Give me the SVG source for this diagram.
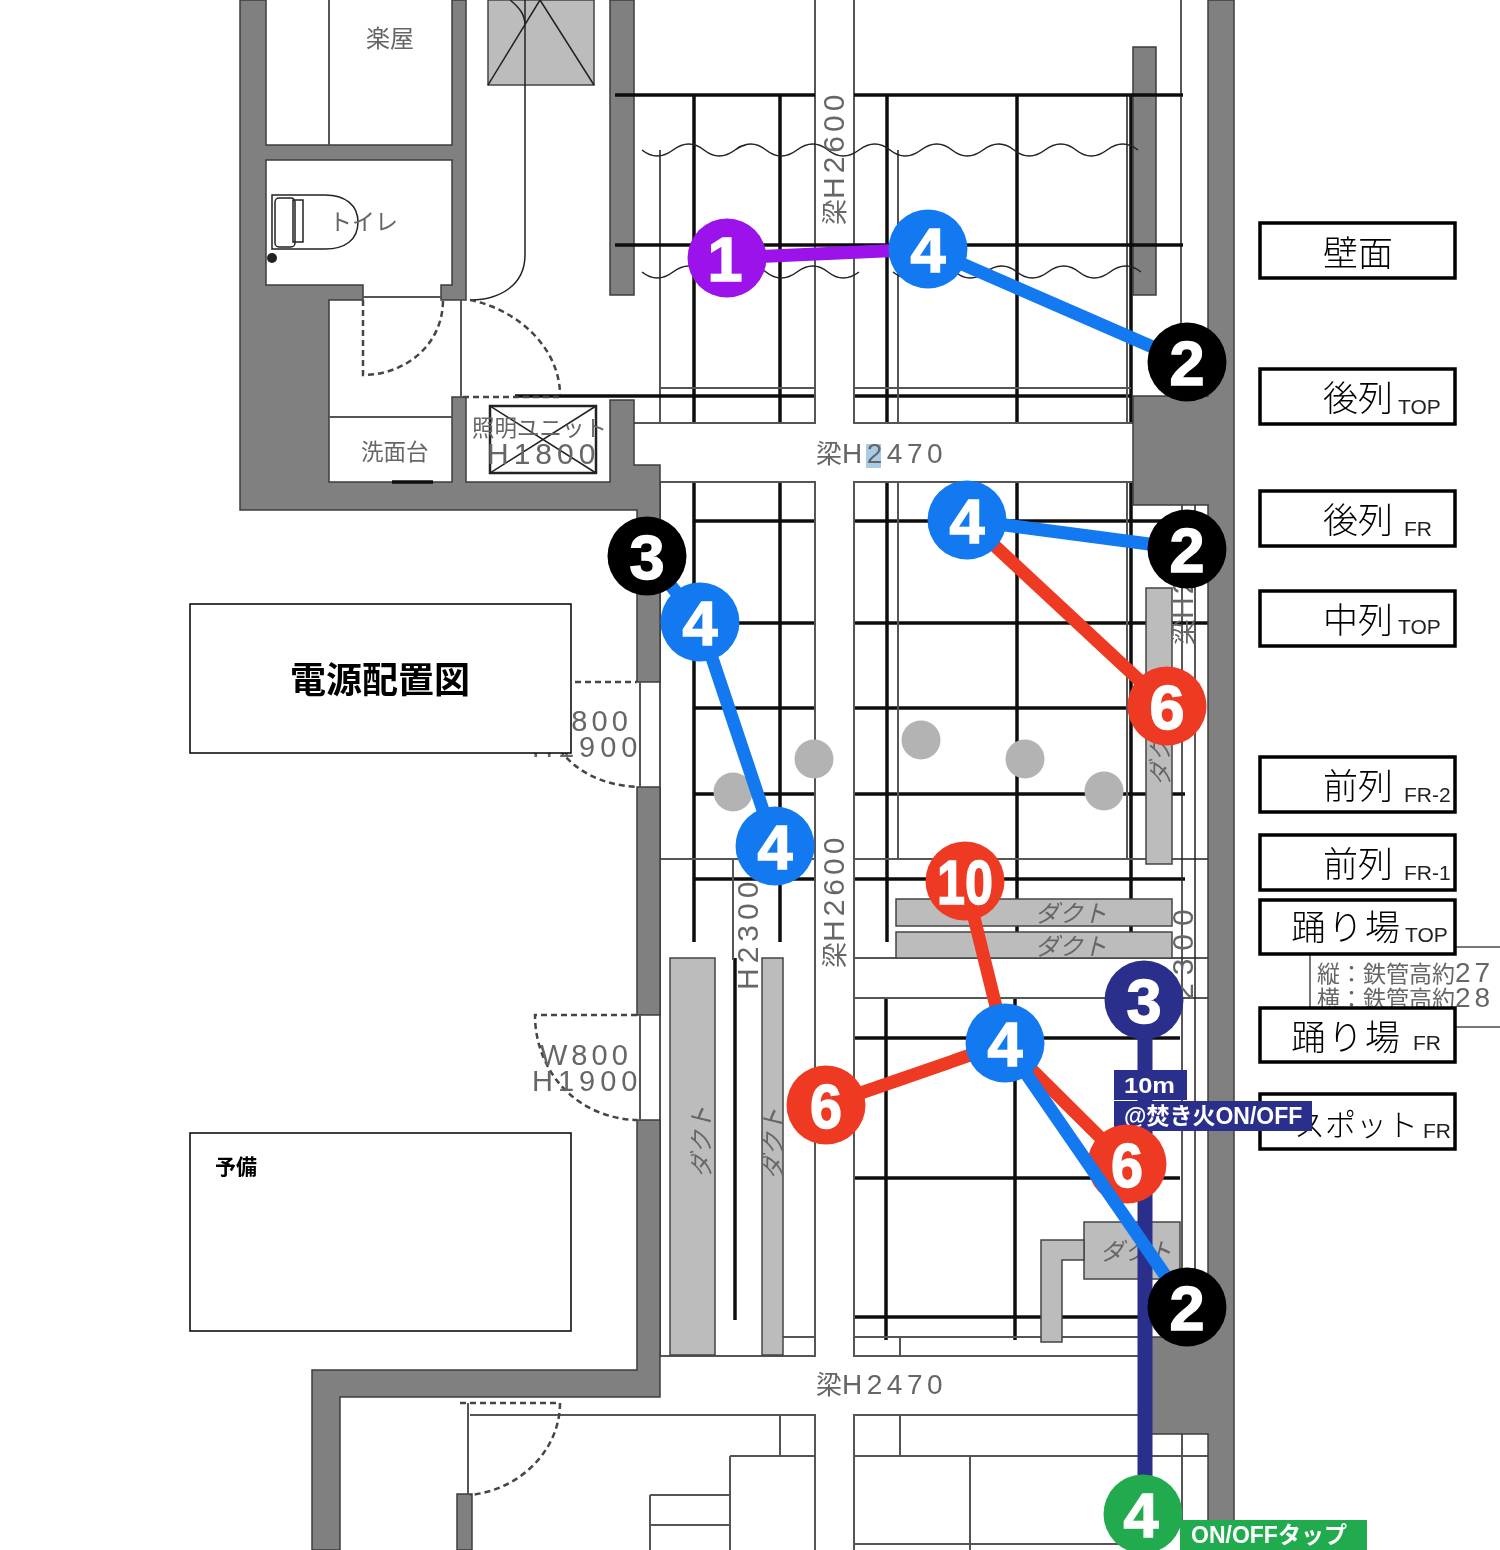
<svg xmlns="http://www.w3.org/2000/svg" width="1500" height="1550" viewBox="0 0 1500 1550">
<defs>
<style>
.w{fill:#808080;stroke:#3c3c3c;stroke-width:1.5}
.d{fill:#bcbcbc;stroke:#444;stroke-width:1.5}
.k{stroke:#111;stroke-width:3.5;fill:none}
.g{stroke:#555;stroke-width:2;fill:none}
.t{stroke:#222;stroke-width:1.5;fill:none}
.da{stroke:#444;stroke-width:2.5;fill:none;stroke-dasharray:6 4}
.p{font-family:"Noto Sans CJK JP","Liberation Sans",sans-serif;fill:#666;font-size:24px;letter-spacing:0}
.e{font-family:"Liberation Sans","Noto Sans CJK JP",sans-serif;fill:#666;font-size:30px;letter-spacing:3px}
.b{fill:#fff;stroke:#000;stroke-width:3.5}
.lb{font-family:"Noto Sans CJK JP",sans-serif;font-size:35px;fill:#000;font-weight:300}
.ls{font-family:"Liberation Sans",sans-serif;font-size:21px;fill:#222}
.n{font-family:"Liberation Sans",sans-serif;font-weight:700;font-size:63px;fill:#fff;stroke:#fff;stroke-width:1.5;text-anchor:middle}
.s{font-family:"Liberation Sans","Noto Sans CJK JP",sans-serif;font-weight:700;fill:#fff}
.c{fill:none;stroke-width:13}
</style>
<filter id="soft" x="-2%" y="-2%" width="104%" height="104%"><feGaussianBlur stdDeviation="0.6"/></filter>
</defs>
<rect width="1500" height="1550" fill="#fff"/>
<g id="plan" filter="url(#soft)">
<path class="g" d="M660 150V423M660 482V1356"/>
<g class="k">
<path d="M515 396H1131"/>
<path d="M694 521H1180M694 623H1208M694 708H1131M694 794H1185M694 879H1185"/>
<path d="M854 1038H1180M854 1178H1180M854 1317H1140"/>
<path d="M694 95V423M694 482V942M780 95V423M780 482V942M887 95V423M887 482V942M1017 95V423M1017 482V942M1131 95V423M1131 482V942"/>
<path d="M886 998V1340M1015 998V1340"/>
<path d="M735 958V1320" />
</g>
<path class="g" d="M898 150V423M898 482V859M1127 95V423M1127 482V859M660 388H1131M634 423H1133M660 482H1133M660 859H1208M854 958H1208M854 998H1208M780 1337H1140M660 1356H1140M470 1415H1140M730 1456H1208M650 1495H730M650 1525H730M852 1544H1140M650 1495V1550M730 1456V1550M970 1456V1550M780 1337V1356M780 1415V1456M900 1337V1356M900 1415V1456M1182 1434V1550M733 859V960"/>
<rect x="816" y="0" width="37" height="1550" fill="#fff"/>
<path class="g" d="M815 0V1550M854 0V1550"/>
<path class="t" d="M1181 0V388M1182 505V1340M1195 505V1340"/>
<rect x="660" y="424" width="473" height="57" fill="#fff"/>
<rect x="660" y="1357" width="480" height="57" fill="#fff"/>
<rect x="866" y="444" width="15" height="24" fill="#a8cbe6"/>

<path class="w" d="M240 0H266V145H452V0H466V300H441V285H452V160H266V285H363V300H329V482H452V397H466V482H610V400H634V465H660V682H637V510H240Z"/>
<rect class="w" x="610" y="0" width="24" height="295"/>
<rect class="w" x="1133" y="47" width="23" height="248"/>
<path class="w" d="M1208 0H1234V1550H1208V1434H1147V1337H1208V505H1133V396H1208Z"/>
<rect class="w" x="637" y="787" width="23" height="228"/>
<path class="w" d="M637 1120H660V1397H340V1550H312V1370H637Z"/>
<rect class="w" x="457" y="1494" width="15" height="56"/>

<path class="k" d="M615 95H815M854 95H1183M615 245H1183"/>
<path class="t" d="M642 150q15 12 31 0t31 0t31 0t31 0t31 0t31 0t31 0t31 0t31 0t31 0t31 0t31 0t31 0t31 0t31 0t31 0"/>
<path class="t" d="M642 272q15 12 31 0t31 0t31 0t31 0t31 0t31 0t31 0M893 272q15 12 31 0t31 0t31 0t31 0t31 0t31 0t31 0t31 0"/>

<path class="g" d="M329 0V145M461 300V397M363 297H441M329 417H452M640 682V787M640 1015V1120M468 1403V1494"/>
<path class="k" d="M392 482H433"/>
<rect class="d" x="488" y="0" width="106" height="85"/>
<path class="t" d="M488 85L540 0L594 85M510 0C520 8 525 15 525 25"/>
<path class="t" d="M525 0V255C525 285 500 300 470 300"/>
<path class="da" d="M363 300V375C405 375 443 345 443 300M470 300C520 310 560 350 560 395M463 397H560M575 682H637M560 750C575 770 600 785 637 787M637 1015H535C535 1070 575 1118 637 1120M460 1403H560C560 1450 520 1490 470 1495"/>
<path class="t" d="M272 195H325C345 195 358 205 358 222C358 240 345 249 325 249H272Z"/>
<rect class="t" x="275" y="198" width="20" height="49" rx="4"/>
<rect class="t" x="293" y="200" width="10" height="42"/>
<circle cx="272" cy="258" r="5" fill="#222"/>
<rect x="490" y="406" width="106" height="67" fill="none" stroke="#222" stroke-width="2.5"/>
<path class="t" d="M490 406L596 473M596 406L490 473"/>

<rect class="d" x="896" y="899" width="276" height="27"/>
<rect class="d" x="896" y="932" width="276" height="26"/>
<rect class="d" x="1146" y="588" width="26" height="276"/>
<rect class="d" x="670" y="958" width="45" height="397"/>
<rect class="d" x="762" y="958" width="21" height="397"/>
<rect class="d" x="1084" y="1222" width="96" height="57"/>
<path class="d" d="M1084 1240H1041V1342H1062V1260H1084Z"/>

<text class="p" x="366" y="47">楽屋</text>
<text class="p" x="329" y="230" style="font-size:23px">トイレ</text>
<text class="p" x="361" y="460" style="font-size:22.5px">洗面台</text>
<text class="p" x="472" y="436" style="font-size:22.5px">照明ユニット</text>
<text class="e" x="487" y="464" style="letter-spacing:5px">H1800</text>
<text class="e" x="816" y="463" style="font-size:28px;letter-spacing:4.5px"><tspan class="p" style="font-size:26px">梁</tspan>H2470</text>
<text class="e" x="816" y="1394" style="font-size:28px;letter-spacing:4.5px"><tspan class="p" style="font-size:26px">梁</tspan>H2470</text>
<text class="e" transform="translate(844 225) rotate(-90)" style="letter-spacing:4px"><tspan class="p" style="font-size:26px">梁</tspan>H2600</text>
<text class="e" transform="translate(844 968) rotate(-90)" style="letter-spacing:4px"><tspan class="p" style="font-size:26px">梁</tspan>H2600</text>
<text class="e" transform="translate(758 990) rotate(-90)" style="letter-spacing:5px">H2300</text>
<text class="e" transform="translate(1193 1000) rotate(-90)" style="letter-spacing:8px">2300</text>
<text class="e" transform="translate(1193 645) rotate(-90)"><tspan class="p" style="font-size:26px">梁</tspan>H2</text>
<text class="p" x="1035" y="922" font-style="italic">ダクト</text>
<text class="p" x="1035" y="955" font-style="italic">ダクト</text>
<text class="p" x="1100" y="1260" font-style="italic">ダクト</text>
<text class="p" font-style="italic" transform="translate(1169 786) rotate(-90)">ダクト</text>
<text class="p" font-style="italic" transform="translate(710 1178) rotate(-90)">ダクト</text>
<text class="p" font-style="italic" transform="translate(782 1180) rotate(-90)">ダクト</text>
<text class="e" x="540" y="1065" style="font-size:29px;letter-spacing:4px">W800</text>
<text class="e" x="532" y="1091" style="font-size:29px;letter-spacing:5px">H1900</text>
<text class="e" x="540" y="731" style="font-size:29px;letter-spacing:4px">W800</text>
<text class="e" x="532" y="757" style="font-size:29px;letter-spacing:5px">H1900</text>
<rect x="1310" y="947" width="200" height="80" fill="#fff" stroke="#777" stroke-width="2"/>
<text class="e" x="1317" y="982" style="font-size:28px;letter-spacing:4px"><tspan class="p" style="font-size:23px">縦：鉄管高約</tspan>27</text>
<text class="e" x="1317" y="1007" style="font-size:28px;letter-spacing:4px"><tspan class="p" style="font-size:23px">横：鉄管高約</tspan>28</text>
</g>

<g id="spot-dots" fill="#b3b3b3">
<circle cx="733" cy="792" r="19.5"/>
<circle cx="814" cy="759" r="19.5"/>
<circle cx="921" cy="740" r="19.5"/>
<circle cx="1025" cy="759" r="19.5"/>
<circle cx="1104" cy="791" r="19.5"/>
</g>

<g id="title-box"><rect x="190" y="604" width="381" height="149" fill="#fff" stroke="#000" stroke-width="1.5"/><text x="290" y="693" font-family="Noto Sans CJK JP,sans-serif" font-weight="700" font-size="36" fill="#000">電源配置図</text></g>
<g id="spare-box"><rect x="190" y="1133" width="381" height="198" fill="#fff" stroke="#000" stroke-width="1.5"/><text x="215" y="1174" font-family="Noto Sans CJK JP,sans-serif" font-weight="700" font-size="21" fill="#000">予備</text></g>

<g id="label-wall"><rect class="b" x="1260" y="223" width="195" height="55"/><text class="lb" x="1323" y="266">壁面</text></g>
<g id="label-rear-top"><rect class="b" x="1260" y="369" width="195" height="55"/><text class="lb" x="1323" y="411">後列</text><text class="ls" x="1398" y="414">TOP</text></g>
<g id="label-rear-fr"><rect class="b" x="1260" y="491" width="195" height="55"/><text class="lb" x="1323" y="533">後列</text><text class="ls" x="1404" y="536">FR</text></g>
<g id="label-mid-top"><rect class="b" x="1260" y="591" width="195" height="55"/><text class="lb" x="1323" y="633">中列</text><text class="ls" x="1398" y="634">TOP</text></g>
<g id="label-front-fr2"><rect class="b" x="1260" y="757" width="195" height="55"/><text class="lb" x="1323" y="799">前列</text><text class="ls" x="1404" y="802">FR-2</text></g>
<g id="label-front-fr1"><rect class="b" x="1260" y="835" width="195" height="55"/><text class="lb" x="1323" y="877">前列</text><text class="ls" x="1404" y="880">FR-1</text></g>
<g id="label-landing-top"><rect class="b" x="1260" y="900" width="195" height="54"/><text class="lb" x="1291" y="940" letter-spacing="2">踊り場</text><text class="ls" x="1405" y="942">TOP</text></g>
<g id="label-landing-fr"><rect class="b" x="1260" y="1008" width="195" height="54"/><text class="lb" x="1291" y="1050" letter-spacing="2">踊り場</text><text class="ls" x="1413" y="1050">FR</text></g>
<g id="label-spot-fr"><rect class="b" x="1260" y="1094" width="195" height="55"/><text class="lb" x="1294" y="1136" style="font-size:31px">スポット</text><text class="ls" x="1423" y="1138">FR</text></g>

<g id="connectors">
<path class="c" stroke="#2b2f8c" style="stroke-width:15" d="M1145 1000V1514"/>
<path class="c" stroke="#9b12ea" d="M727 258L928 249"/>
<path class="c" stroke="#1279f0" d="M928 249L1187 362"/>
<path class="c" stroke="#1279f0" d="M967 520L1187 549"/>
<path class="c" stroke="#ee3a22" d="M967 520L1167 706"/>
<path class="c" stroke="#1279f0" d="M647 556L700 622M700 622L775 846"/>
<path class="c" stroke="#ee3a22" d="M965 881L1005 1043M1005 1043L826 1105M1005 1043L1127 1164"/>
</g>

<g id="tag-10m"><rect x="1114" y="1070" width="73" height="30" fill="#2b2f8c"/><text class="s" x="1124" y="1093" font-size="22" textLength="51" lengthAdjust="spacingAndGlyphs">10m</text></g>
<g id="tag-takibi"><rect x="1114" y="1101" width="198" height="30" fill="#2b2f8c"/><text class="s" x="1124" y="1124" font-size="23">@焚き火ON/OFF</text></g>

<g id="node-1"><circle cx="727" cy="258" r="39.5" fill="#9b12ea"/><text class="n" x="725" y="281">1</text></g>
<g id="node-4a"><circle cx="928" cy="249" r="39.5" fill="#1279f0"/><text class="n" x="928" y="272">4</text></g>
<g id="node-2a"><circle cx="1187" cy="362" r="39.5" fill="#000"/><text class="n" x="1187" y="385">2</text></g>
<g id="node-6a"><circle cx="1167" cy="706" r="39.5" fill="#ee3a22"/><text class="n" x="1167" y="729">6</text></g>
<g id="node-4b"><circle cx="967" cy="520" r="39.5" fill="#1279f0"/><text class="n" x="967" y="543">4</text></g>
<g id="node-2b"><circle cx="1187" cy="549" r="39.5" fill="#000"/><text class="n" x="1187" y="572">2</text></g>
<g id="node-3a"><circle cx="647" cy="556" r="39.5" fill="#000"/><text class="n" x="647" y="579">3</text></g>
<g id="node-4c"><circle cx="700" cy="622" r="39.5" fill="#1279f0"/><text class="n" x="700" y="645">4</text></g>
<g id="node-4d"><circle cx="775" cy="846" r="39.5" fill="#1279f0"/><text class="n" x="775" y="869">4</text></g>
<g id="node-10"><circle cx="965" cy="881" r="39.5" fill="#ee3a22"/><text class="n" x="965" y="904" textLength="56" lengthAdjust="spacingAndGlyphs">10</text></g>
<g id="node-3b"><circle cx="1144" cy="1000" r="39.5" fill="#2b2f8c"/><text class="n" x="1144" y="1023">3</text></g>
<g id="node-6b"><circle cx="826" cy="1105" r="39.5" fill="#ee3a22"/><text class="n" x="826" y="1128" textLength="32" lengthAdjust="spacingAndGlyphs">6</text></g>
<g id="node-6c"><circle cx="1127" cy="1164" r="39.5" fill="#ee3a22"/><text class="n" x="1127" y="1187" textLength="32" lengthAdjust="spacingAndGlyphs">6</text></g>
<g id="connector-top"><path class="c" stroke="#1279f0" d="M1005 1043L1187 1307"/></g>
<g id="node-4e"><circle cx="1005" cy="1043" r="39.5" fill="#1279f0"/><text class="n" x="1005" y="1066">4</text></g>
<g id="node-2c"><circle cx="1187" cy="1307" r="39.5" fill="#000"/><text class="n" x="1187" y="1330">2</text></g>
<g id="tag-onoff"><rect x="1180" y="1520" width="187" height="30" fill="#22ab4e"/><text class="s" x="1191" y="1543" font-size="23">ON/OFFタップ</text></g>
<g id="node-4f"><circle cx="1143" cy="1514" r="39.5" fill="#22ab4e"/><text class="n" x="1141" y="1537">4</text></g>
</svg>
